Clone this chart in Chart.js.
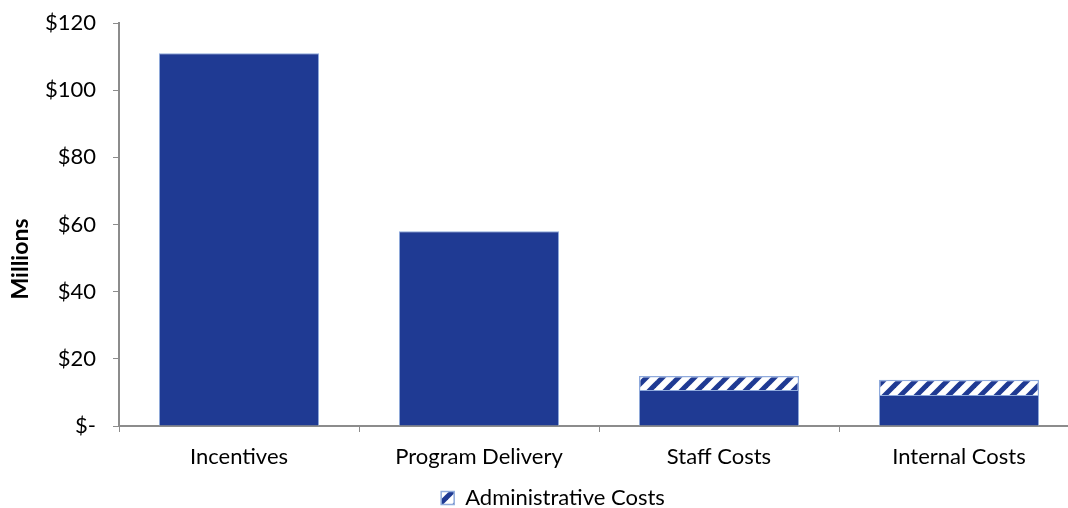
<!DOCTYPE html>
<html>
<head>
<meta charset="utf-8">
<script src="https://cdn.jsdelivr.net/npm/chart.js@4"></script>
<style>
  html, body { margin: 0; padding: 0; background: #fff; overflow: hidden; }
  #wrap { width: 1068px; height: 508px; overflow: hidden; }
</style>
</head>
<body>
<div id="wrap"><canvas id="chart" width="1106" height="520"></canvas></div>
<script>
const categories = ['Incentives', 'Program Delivery', 'Staff Costs', 'Internal Costs'];
const directCosts = [111, 58, 10.7, 9.2];
const adminCosts = [0, 0, 4.2, 4.6];
const yTicks = [0, 20, 40, 60, 80, 100, 120];

const navy = '#1f3a93';
const edge = '#8faadc';
const axisGray = '#8c8c8c';
const font = "Lato, 'Open Sans', sans-serif";

// diagonal hatch for the admin share
function makeHatch() {
    const c = document.createElement('canvas');
    c.width = 16;
    c.height = 16;
    const g = c.getContext('2d');
    g.fillStyle = '#fff';
    g.fillRect(0, 0, 16, 16);
    g.strokeStyle = navy;
    g.lineWidth = 5;
    for (const o of [-16, 0, 16]) {
        g.beginPath();
        g.moveTo(o - 4, 20);
        g.lineTo(o + 20, -4);
        g.stroke();
    }
    return document.getElementById('chart').getContext('2d').createPattern(c, 'repeat');
}

const hatch = makeHatch();

new Chart(document.getElementById('chart'), {
    type: 'bar',
    data: {
        labels: categories,
        datasets: [{
            label: 'Direct',
            data: directCosts,
            backgroundColor: navy,
            borderColor: edge,
            borderWidth: 1,
            categoryPercentage: 1,
            barPercentage: 0.667
        }, {
            label: 'Administrative Costs',
            data: adminCosts,
            backgroundColor: hatch,
            borderColor: edge,
            borderWidth: 1.5,
            categoryPercentage: 1,
            barPercentage: 0.667
        }]
    },
    options: {
        responsive: false,
        animation: false,
        layout: { padding: { top: 23, right: 27, left: 27, bottom: 1 } },
        plugins: {
            tooltip: { enabled: false },
            legend: {
                position: 'bottom',
                labels: {
                    color: '#000',
                    font: { family: font, size: 22 },
                    boxWidth: 13,
                    boxHeight: 13,
                    padding: 6,
                    filter: item => item.text === 'Administrative Costs'
                }
            }
        },
        scales: {
            x: {
                stacked: true,
                grid: {
                    offset: true,
                    drawOnChartArea: false,
                    drawTicks: true,
                    tickLength: 6,
                    color: axisGray
                },
                border: { color: axisGray, width: 2 },
                ticks: {
                    color: '#000',
                    font: { family: font, size: 22 },
                    padding: 12,
                    maxRotation: 0
                },
                afterFit: s => { s.height = 55; }
            },
            y: {
                stacked: true,
                min: 0,
                max: 120,
                afterBuildTicks: s => { s.ticks = yTicks.map(v => ({ value: v })); },
                grid: {
                    drawOnChartArea: false,
                    drawTicks: true,
                    tickLength: 6,
                    color: axisGray
                },
                border: { color: axisGray, width: 2 },
                ticks: {
                    color: '#000',
                    font: { family: font, size: 22 },
                    padding: 17,
                    callback: v => v === 0 ? '$-' : '$' + v
                },
                title: {
                    display: true,
                    // trailing en spaces nudge the rotated title down a little
                    text: 'Millions\u2002\u2002\u2002\u2002\u2002\u2002',
                    color: '#000',
                    font: { family: font, size: 23, weight: 'bold' },
                    padding: { top: -20, bottom: 0 }
                },
                afterFit: s => {
                    s.width = 92;
                    s.paddingTop = 0;
                    s.paddingBottom = 0;
                }
            }
        }
    }
});
</script>
</body>
</html>
